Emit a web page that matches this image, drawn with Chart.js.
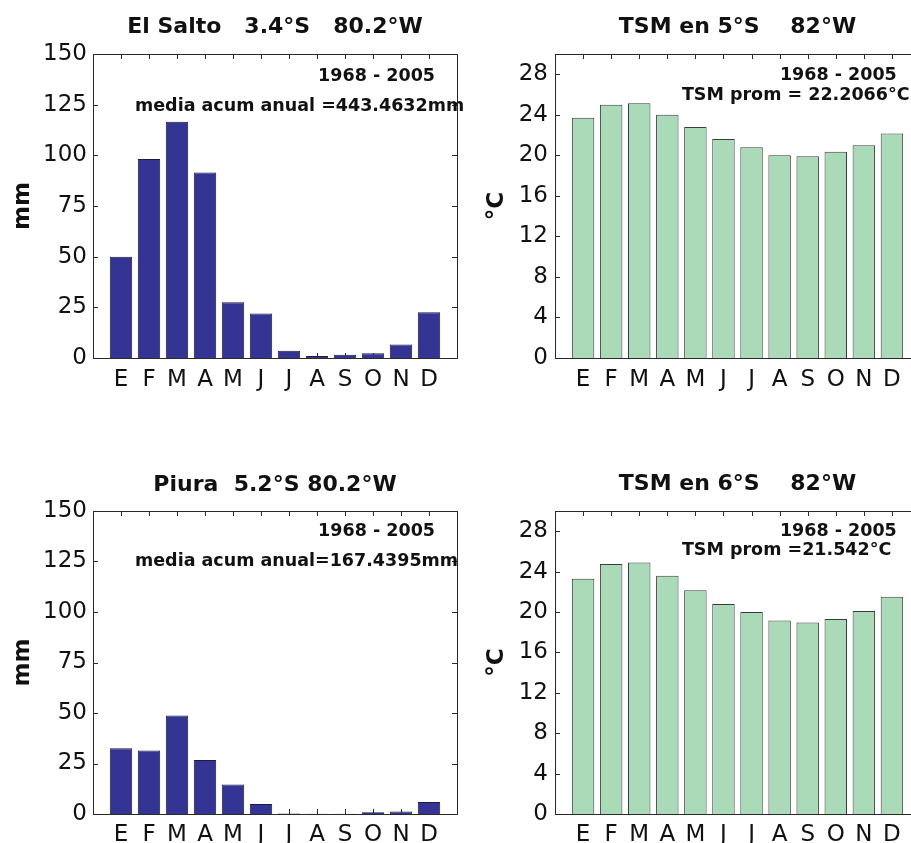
<!DOCTYPE html>
<html>
<head>
<meta charset="utf-8">
<script src="https://cdn.jsdelivr.net/npm/chart.js@4.4.1/dist/chart.umd.min.js"></script>
<style>
  html, body { margin: 0; padding: 0; background: #fff; }
  body { position: relative; width: 911px; height: 843px; overflow: hidden; }
  .panel { position: absolute; }
  canvas { display: block; }
</style>
</head>
<body>
<div class="panel" style="left:0px;top:0px"><canvas id="elSalto" width="470" height="400"></canvas></div>
<div class="panel" style="left:460px;top:0px"><canvas id="sst5" width="480" height="400"></canvas></div>
<div class="panel" style="left:0px;top:460px"><canvas id="piura" width="470" height="383"></canvas></div>
<div class="panel" style="left:460px;top:460px"><canvas id="sst6" width="480" height="383"></canvas></div>

<script>
// Monthly climatology 1968-2005: rainfall (mm) and sea surface temperature (°C)
const months = ['E', 'F', 'M', 'A', 'M', 'J', 'J', 'A', 'S', 'O', 'N', 'D'];

const rainElSalto = [50.0, 98.2, 116.6, 91.5, 27.5, 21.9, 3.6, 1.0, 1.6, 2.3, 6.6, 22.6];
const rainPiura   = [32.6, 31.4, 48.8, 26.7, 14.6, 4.9, 0.2, 0.1, 0.1, 0.9, 1.2, 6.0];
const sstAt5S     = [23.7, 25.0, 25.15, 24.0, 22.8, 21.6, 20.8, 20.0, 19.9, 20.35, 21.0, 22.15];
const sstAt6S     = [23.3, 24.75, 24.9, 23.6, 22.15, 20.8, 20.0, 19.15, 18.95, 19.3, 20.1, 21.5];

const rainTicks = [0, 25, 50, 75, 100, 125, 150];
const sstTicks  = [0, 4, 8, 12, 16, 20, 24, 28];

const RAIN_COLOR = '#343494';
const SST_COLOR  = '#aadab8';
const INK = '#111111';
const FONT = "'DejaVu Sans', 'Liberation Sans', Arial, sans-serif";

Chart.defaults.font.family = FONT;
Chart.defaults.color = INK;

// Box around the axes plus inward tick marks on all four sides
const axesBox = {
  id: 'axesBox',
  beforeDatasetsDraw(chart) {
    const { ctx, chartArea: a, scales: { x, y } } = chart;
    const len = 5;
    ctx.save();
    ctx.strokeStyle = '#2a2a2a';
    ctx.lineWidth = 1;
    ctx.beginPath();
    x.ticks.forEach(t => {
      const px = Math.round(x.getPixelForValue(t.value)) + 0.5;
      ctx.moveTo(px, a.top); ctx.lineTo(px, a.top + len);
      ctx.moveTo(px, a.bottom); ctx.lineTo(px, a.bottom - len);
    });
    y.ticks.forEach(t => {
      const py = Math.round(y.getPixelForValue(t.value)) + 0.5;
      ctx.moveTo(a.left, py); ctx.lineTo(a.left + len, py);
      ctx.moveTo(a.right, py); ctx.lineTo(a.right - len, py);
    });
    ctx.stroke();
    ctx.restore();
  },
  afterDatasetsDraw(chart) {
    const { ctx, chartArea: a } = chart;
    ctx.save();
    ctx.strokeStyle = '#2a2a2a';
    ctx.lineWidth = 1;
    ctx.strokeRect(Math.round(a.left) + 0.5, Math.round(a.top) + 0.5,
                   Math.round(a.right - a.left), Math.round(a.bottom - a.top));
    ctx.restore();
  }
};

// Text notes placed in data coordinates
const notes = {
  id: 'notes',
  afterDraw(chart, args, opts) {
    const { ctx, scales: { x, y } } = chart;
    ctx.save();
    ctx.font = 'bold 17.5px ' + FONT;
    ctx.fillStyle = INK;
    ctx.textAlign = 'left';
    ctx.textBaseline = 'middle';
    (opts.lines || []).forEach(n => {
      ctx.fillText(n.text, x.getPixelForValue(n.x), y.getPixelForValue(n.y));
    });
    ctx.restore();
  }
};

function makePanel(id, cfg) {
  const data = cfg.values.map((v, i) => ({ x: i + 1, y: v }));
  return new Chart(document.getElementById(id), {
    type: 'bar',
    data: {
      datasets: [{
        data: data,
        backgroundColor: cfg.color,
        borderColor: cfg.edge,
        borderWidth: 1,
        borderSkipped: 'bottom',
        categoryPercentage: 1.0,
        barPercentage: 0.8
      }]
    },
    plugins: [axesBox, notes],
    options: {
      responsive: false,
      animation: false,
      events: [],
      layout: { padding: { left: 0, right: cfg.padRight, top: 0, bottom: 0 } },
      plugins: {
        legend: { display: false },
        tooltip: { enabled: false },
        title: {
          display: true,
          text: cfg.title,
          fullSize: false,
          color: INK,
          font: { size: 22, weight: 'bold', family: FONT, lineHeight: 1.2 },
          padding: cfg.titlePad
        },
        notes: { lines: cfg.notes }
      },
      scales: {
        x: {
          type: 'linear',
          min: 0,
          max: 13,
          offset: false,
          grid: { display: false, drawTicks: false },
          border: { display: false },
          afterBuildTicks: s => { s.ticks = months.map((m, i) => ({ value: i + 1 })); },
          afterFit: s => { s.height = cfg.xHeight; },
          ticks: {
            autoSkip: false,
            maxRotation: 0,
            padding: cfg.xPad,
            color: INK,
            font: { size: 23, family: FONT },
            callback: v => months[v - 1]
          }
        },
        y: {
          min: 0,
          max: cfg.yMax,
          grid: { display: false, drawTicks: false },
          border: { display: false },
          afterBuildTicks: s => { s.ticks = cfg.yTicks.map(v => ({ value: v })); },
          afterFit: s => { s.width = cfg.yWidth; },
          ticks: {
            padding: cfg.yPad,
            color: INK,
            font: { size: 23, family: FONT }
          },
          title: {
            display: true,
            text: cfg.yTitle,
            color: INK,
            font: { size: 23, weight: 'bold', family: FONT, lineHeight: 1.2 },
            padding: { top: cfg.yTitlePad, bottom: 0 }
          }
        }
      }
    }
  });
}

makePanel('elSalto', {
  title: 'El Salto   3.4°S   80.2°W',
  values: rainElSalto, color: RAIN_COLOR, edge: '#1c1c40',
  yMax: 150, yTicks: rainTicks, yTitle: 'mm',
  yWidth: 93, yPad: 6, yTitlePad: 9, padRight: 13,
  xHeight: 42, xPad: 8,
  titlePad: { top: 13.8, bottom: 13.8 },
  notes: [
    { text: '1968 - 2005', x: 8.04, y: 139 },
    { text: 'media acum anual =443.4632mm', x: 1.5, y: 124.3 }
  ]
});

makePanel('sst5', {
  title: 'TSM en 5°S    82°W',
  values: sstAt5S, color: SST_COLOR, edge: '#3c3c3c',
  yMax: 30, yTicks: sstTicks, yTitle: '°C',
  yWidth: 95, yPad: 7, yTitlePad: 23, padRight: 20,
  xHeight: 42, xPad: 8,
  titlePad: { top: 13.8, bottom: 13.8 },
  notes: [
    { text: '1968 - 2005', x: 8.01, y: 27.9 },
    { text: 'TSM prom = 22.2066°C', x: 4.52, y: 25.9 }
  ]
});

makePanel('piura', {
  title: 'Piura  5.2°S 80.2°W',
  values: rainPiura, color: RAIN_COLOR, edge: '#1c1c40',
  yMax: 150, yTicks: rainTicks, yTitle: 'mm',
  yWidth: 93, yPad: 6, yTitlePad: 9, padRight: 13,
  xHeight: 29, xPad: 7,
  titlePad: { top: 11.8, bottom: 12.8 },
  notes: [
    { text: '1968 - 2005', x: 8.04, y: 140.1 },
    { text: 'media acum anual=167.4395mm', x: 1.5, y: 124.9 }
  ]
});

makePanel('sst6', {
  title: 'TSM en 6°S    82°W',
  values: sstAt6S, color: SST_COLOR, edge: '#3c3c3c',
  yMax: 30, yTicks: sstTicks, yTitle: '°C',
  yWidth: 95, yPad: 7, yTitlePad: 23, padRight: 20,
  xHeight: 29, xPad: 7,
  titlePad: { top: 10.8, bottom: 13.8 },
  notes: [
    { text: '1968 - 2005', x: 8.01, y: 28.0 },
    { text: 'TSM prom =21.542°C', x: 4.52, y: 26.1 }
  ]
});
</script>
</body>
</html>
